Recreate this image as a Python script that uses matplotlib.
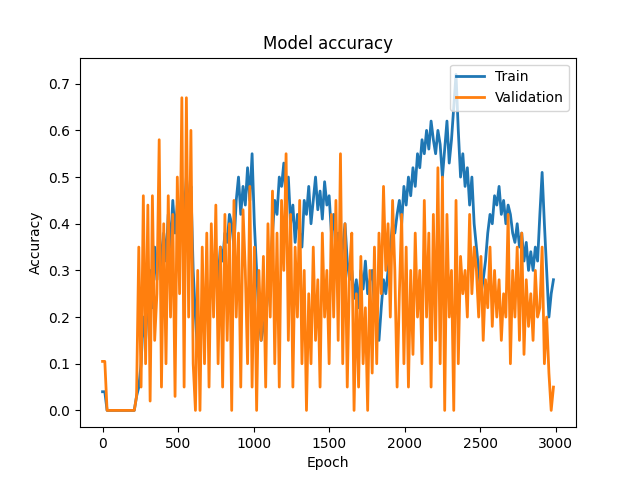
import matplotlib
matplotlib.use("Agg")
import matplotlib.pyplot as plt
import numpy as np

# accuracy, one value per 15 epochs
train_acc = [
    0.04, 0.04, 0.0, 0.0, 0.0, 0.0, 0.0, 0.0, 0.0, 0.0,
    0.0, 0.0, 0.0, 0.0, 0.0, 0.03, 0.05, 0.1, 0.2, 0.15,
    0.25, 0.3, 0.22, 0.35, 0.28, 0.4, 0.3, 0.38, 0.32, 0.42,
    0.35, 0.45, 0.38, 0.44, 0.4, 0.47, 0.42, 0.5, 0.44, 0.48,
    0.3, 0.2, 0.12, 0.15, 0.2, 0.18, 0.25, 0.22, 0.28, 0.26,
    0.3, 0.28, 0.35, 0.32, 0.38, 0.36, 0.42, 0.4, 0.35, 0.45,
    0.5, 0.42, 0.48, 0.44, 0.52, 0.45, 0.55, 0.4, 0.3, 0.2,
    0.15, 0.18, 0.2, 0.25, 0.3, 0.38, 0.45, 0.42, 0.5, 0.48,
    0.53, 0.45, 0.5, 0.4, 0.44, 0.36, 0.42, 0.38, 0.35, 0.45,
    0.42, 0.48, 0.4, 0.45, 0.5, 0.43, 0.47, 0.41, 0.49, 0.44,
    0.46, 0.38, 0.42, 0.34, 0.38, 0.3, 0.35, 0.4, 0.32, 0.28,
    0.3, 0.24, 0.28, 0.22, 0.3, 0.26, 0.32, 0.25, 0.28, 0.3,
    0.22, 0.2, 0.15, 0.22, 0.28, 0.25, 0.3, 0.35, 0.4, 0.38,
    0.42, 0.45, 0.4, 0.48, 0.44, 0.5, 0.46, 0.52, 0.48, 0.55,
    0.52, 0.58, 0.55, 0.6, 0.56, 0.62, 0.58, 0.55, 0.6, 0.57,
    0.5, 0.56, 0.62, 0.53, 0.58, 0.65, 0.72, 0.6, 0.5, 0.55,
    0.48, 0.52, 0.44, 0.5, 0.4, 0.35, 0.3, 0.25, 0.28, 0.32,
    0.38, 0.42, 0.4, 0.46, 0.44, 0.48, 0.42, 0.45, 0.4, 0.44,
    0.42, 0.38, 0.36, 0.4, 0.35, 0.38, 0.32, 0.36, 0.3, 0.34,
    0.3, 0.35, 0.32, 0.42, 0.51, 0.4, 0.3, 0.2, 0.25, 0.28,
]
val_acc = [
    0.105, 0.105, 0, 0, 0, 0, 0, 0, 0, 0,
    0, 0, 0, 0, 0, 0.03, 0.35, 0.05, 0.46, 0.1,
    0.44, 0.02, 0.46, 0.15, 0.25, 0.58, 0.05, 0.4, 0.1, 0.46,
    0.2, 0.42, 0.03, 0.5, 0.25, 0.67, 0.05, 0.67, 0.2, 0.6,
    0.1, 0.0, 0.3, 0.0, 0.35, 0.1, 0.38, 0.05, 0.4, 0.2,
    0.44, 0.1, 0.35, 0.05, 0.42, 0.15, 0.4, 0.0, 0.45, 0.2,
    0.38, 0.05, 0.43, 0.3, 0.1, 0.48, 0.05, 0.35, 0.0, 0.3,
    0.15, 0.33, 0.05, 0.4, 0.2, 0.47, 0.1, 0.38, 0.05, 0.45,
    0.3, 0.55, 0.15, 0.42, 0.05, 0.35, 0.2, 0.45, 0.1, 0.3,
    0.0, 0.25, 0.1, 0.35, 0.15, 0.28, 0.05, 0.38, 0.2, 0.3,
    0.1, 0.42, 0.2, 0.45, 0.15, 0.55, 0.1, 0.4, 0.05, 0.3,
    0.38, 0.0, 0.25, 0.05, 0.33, 0.1, 0.22, 0.0, 0.3, 0.08,
    0.35, 0.1, 0.38, 0.25, 0.48, 0.3, 0.4, 0.2, 0.45, 0.3,
    0.05, 0.25, 0.42, 0.1, 0.35, 0.05, 0.3, 0.12, 0.38, 0.2,
    0.3, 0.1, 0.45, 0.2, 0.38, 0.05, 0.42, 0.15, 0.52, 0.1,
    0.5, 0.0, 0.42, 0.2, 0.3, 0.0, 0.45, 0.1, 0.33, 0.25,
    0.3, 0.2, 0.42, 0.25, 0.35, 0.3, 0.2, 0.33, 0.15, 0.28,
    0.22, 0.35, 0.18, 0.3, 0.2, 0.28, 0.15, 0.25, 0.2, 0.42,
    0.1, 0.3, 0.2, 0.35, 0.15, 0.38, 0.12, 0.28, 0.18, 0.25,
    0.15, 0.3, 0.2, 0.22, 0.35, 0.1, 0.2, 0.08, 0.0, 0.05,
]
epochs = np.arange(len(train_acc)) * 15

plt.figure(figsize=(6.4, 4.8), dpi=100)
plt.plot(epochs, train_acc, linewidth=2, label="Train")
plt.plot(epochs, val_acc, linewidth=2, label="Validation")
plt.title("Model accuracy")
plt.ylabel("Accuracy")
plt.xlabel("Epoch")
plt.legend(loc="upper right")
plt.savefig("out.png")
